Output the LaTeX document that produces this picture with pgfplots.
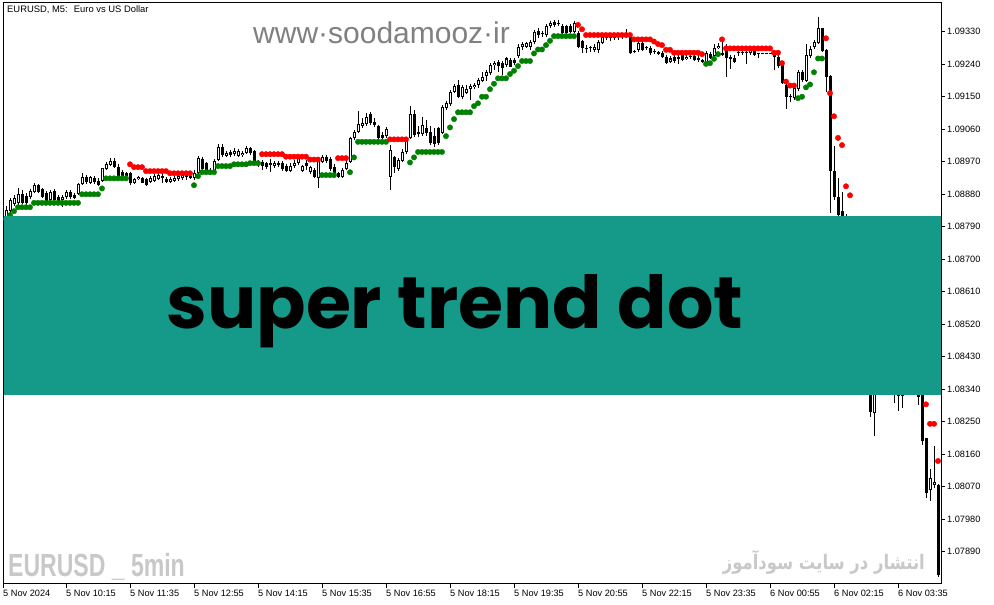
\documentclass[border=0pt]{standalone}
\usepackage{pgfplots}
\usepackage{pgfplotstable}
\pgfplotsset{compat=1.18}
\usepackage{fontspec}
\setmainfont{Liberation Sans}
\newfontfamily\boxfont{Poppins}
\newfontfamily\arabicfont[Script=Arabic]{DejaVu Sans}
\TeXXeTstate=1
\definecolor{boxteal}{RGB}{21,154,138}
\definecolor{stgreen}{RGB}{0,128,0}
\definecolor{stred}{RGB}{255,0,0}
\definecolor{wmgray}{RGB}{128,128,128}
\definecolor{lgray}{RGB}{200,200,200}

\pgfplotstableread{
i o h l c
0 1.08814 1.08847 1.08803 1.08836
1 1.08834 1.08870 1.08828 1.08864
2 1.08853 1.08878 1.08847 1.08870
3 1.08857 1.08897 1.08850 1.08881
4 1.08881 1.08892 1.08853 1.08857
5 1.08875 1.08883 1.08850 1.08856
6 1.08872 1.08895 1.08867 1.08889
7 1.08887 1.08910 1.08883 1.08906
8 1.08906 1.08908 1.08883 1.08887
9 1.08894 1.08897 1.08870 1.08873
10 1.08883 1.08889 1.08858 1.08862
11 1.08864 1.08892 1.08861 1.08885
12 1.08890 1.08895 1.08861 1.08864
13 1.08871 1.08878 1.08856 1.08859
14 1.08864 1.08878 1.08844 1.08873
15 1.08871 1.08892 1.08867 1.08887
16 1.08887 1.08892 1.08867 1.08871
17 1.08878 1.08883 1.08867 1.08870
18 1.08880 1.08911 1.08878 1.08908
19 1.08908 1.08939 1.08906 1.08929
20 1.08929 1.08933 1.08908 1.08914
21 1.08912 1.08931 1.08908 1.08927
22 1.08924 1.08931 1.08908 1.08913
23 1.08917 1.08925 1.08903 1.08906
24 1.08917 1.08953 1.08914 1.08952
25 1.08949 1.08969 1.08947 1.08963
26 1.08961 1.08980 1.08958 1.08973
27 1.08973 1.08980 1.08953 1.08956
28 1.08956 1.08964 1.08925 1.08929
29 1.08942 1.08947 1.08925 1.08931
30 1.08938 1.08942 1.08920 1.08931
31 1.08940 1.08942 1.08906 1.08910
32 1.08910 1.08925 1.08908 1.08921
33 1.08921 1.08931 1.08920 1.08927
34 1.08924 1.08928 1.08911 1.08912
35 1.08921 1.08925 1.08903 1.08906
36 1.08915 1.08931 1.08911 1.08924
37 1.08917 1.08936 1.08914 1.08931
38 1.08921 1.08939 1.08920 1.08933
39 1.08931 1.08939 1.08911 1.08924
40 1.08921 1.08928 1.08911 1.08915
41 1.08915 1.08928 1.08911 1.08922
42 1.08917 1.08931 1.08914 1.08924
43 1.08921 1.08936 1.08917 1.08931
44 1.08924 1.08939 1.08920 1.08933
45 1.08933 1.08938 1.08920 1.08929
46 1.08926 1.08936 1.08922 1.08931
47 1.08924 1.08947 1.08920 1.08938
48 1.08938 1.08986 1.08933 1.08979
49 1.08977 1.08983 1.08944 1.08949
50 1.08966 1.08969 1.08939 1.08945
51 1.08947 1.08953 1.08933 1.08938
52 1.08945 1.08978 1.08942 1.08973
53 1.08975 1.09019 1.08972 1.09010
54 1.09010 1.09019 1.08983 1.08989
55 1.08987 1.09000 1.08983 1.08995
56 1.08998 1.09003 1.08983 1.08989
57 1.08991 1.09008 1.08986 1.09001
58 1.08986 1.09005 1.08983 1.08999
59 1.08989 1.09000 1.08983 1.08995
60 1.08995 1.09014 1.08991 1.09007
61 1.09007 1.09011 1.08989 1.08993
62 1.09001 1.09003 1.08967 1.08970
63 1.08961 1.08975 1.08956 1.08970
64 1.08970 1.08975 1.08947 1.08958
65 1.08966 1.08969 1.08950 1.08956
66 1.08961 1.08977 1.08942 1.08966
67 1.08958 1.08972 1.08953 1.08967
68 1.08961 1.08972 1.08956 1.08966
69 1.08967 1.08972 1.08944 1.08949
70 1.08958 1.08964 1.08942 1.08945
71 1.08945 1.08967 1.08942 1.08958
72 1.08958 1.08975 1.08953 1.08967
73 1.08966 1.08986 1.08961 1.08980
74 1.08945 1.08961 1.08942 1.08958
75 1.08967 1.08975 1.08947 1.08958
76 1.08942 1.08958 1.08936 1.08955
77 1.08947 1.08953 1.08925 1.08929
78 1.08924 1.08983 1.08897 1.08980
79 1.08970 1.08989 1.08967 1.08984
80 1.08984 1.08989 1.08967 1.08973
81 1.08978 1.08983 1.08944 1.08950
82 1.08956 1.08964 1.08925 1.08929
83 1.08938 1.08942 1.08925 1.08929
84 1.08927 1.08953 1.08925 1.08947
85 1.08949 1.08975 1.08947 1.08967
86 1.08970 1.09039 1.08967 1.09035
87 1.09035 1.09058 1.09030 1.09053
88 1.09053 1.09111 1.09050 1.09075
89 1.09069 1.09091 1.09064 1.09076
90 1.09075 1.09105 1.09069 1.09093
91 1.09102 1.09108 1.09072 1.09076
92 1.09081 1.09091 1.09066 1.09072
93 1.09069 1.09072 1.09030 1.09035
94 1.09044 1.09052 1.09027 1.09035
95 1.09041 1.09066 1.09036 1.09060
96 1.08929 1.09016 1.08892 1.09003
97 1.08982 1.08986 1.08939 1.08956
98 1.08949 1.08980 1.08944 1.08975
99 1.08973 1.09005 1.08969 1.08998
100 1.08996 1.09030 1.08991 1.09027
101 1.09037 1.09124 1.09033 1.09102
102 1.09102 1.09113 1.09039 1.09044
103 1.09052 1.09069 1.09039 1.09047
104 1.09047 1.09094 1.09041 1.09072
105 1.09064 1.09086 1.09041 1.09050
106 1.09053 1.09069 1.09016 1.09021
107 1.09041 1.09064 1.09011 1.09019
108 1.09064 1.09066 1.09016 1.09022
109 1.09050 1.09127 1.09047 1.09121
110 1.09118 1.09138 1.09113 1.09132
111 1.09129 1.09169 1.09124 1.09164
112 1.09164 1.09185 1.09160 1.09180
113 1.09183 1.09196 1.09147 1.09150
114 1.09150 1.09183 1.09144 1.09176
115 1.09161 1.09183 1.09158 1.09171
116 1.09171 1.09185 1.09141 1.09180
117 1.09176 1.09188 1.09171 1.09183
118 1.09183 1.09202 1.09174 1.09196
119 1.09194 1.09219 1.09191 1.09205
120 1.09207 1.09224 1.09194 1.09219
121 1.09215 1.09243 1.09210 1.09238
122 1.09238 1.09249 1.09224 1.09244
123 1.09247 1.09252 1.09219 1.09235
124 1.09244 1.09249 1.09210 1.09229
125 1.09238 1.09260 1.09232 1.09256
126 1.09252 1.09257 1.09232 1.09233
127 1.09252 1.09257 1.09238 1.09243
128 1.09263 1.09296 1.09257 1.09289
129 1.09287 1.09302 1.09280 1.09296
130 1.09289 1.09302 1.09285 1.09298
131 1.09289 1.09307 1.09280 1.09302
132 1.09302 1.09335 1.09296 1.09330
133 1.09333 1.09340 1.09313 1.09321
134 1.09324 1.09332 1.09316 1.09327
135 1.09321 1.09352 1.09316 1.09346
136 1.09346 1.09360 1.09340 1.09353
137 1.09358 1.09363 1.09343 1.09349
138 1.09352 1.09363 1.09346 1.09355
139 1.09346 1.09352 1.09321 1.09326
140 1.09346 1.09349 1.09321 1.09326
141 1.09346 1.09352 1.09327 1.09330
142 1.09330 1.09360 1.09327 1.09353
143 1.09327 1.09332 1.09285 1.09289
144 1.09305 1.09307 1.09271 1.09284
145 1.09282 1.09293 1.09271 1.09282
146 1.09284 1.09291 1.09274 1.09284
147 1.09280 1.09296 1.09274 1.09289
148 1.09280 1.09307 1.09271 1.09302
149 1.09300 1.09327 1.09296 1.09316
150 1.09313 1.09318 1.09307 1.09313
151 1.09312 1.09318 1.09304 1.09312
152 1.09313 1.09318 1.09307 1.09313
153 1.09315 1.09324 1.09307 1.09315
154 1.09316 1.09324 1.09310 1.09316
155 1.09321 1.09338 1.09313 1.09321
156 1.09316 1.09321 1.09268 1.09270
157 1.09275 1.09280 1.09271 1.09273
158 1.09280 1.09302 1.09274 1.09298
159 1.09298 1.09302 1.09277 1.09280
160 1.09284 1.09291 1.09280 1.09284
161 1.09284 1.09291 1.09266 1.09270
162 1.09275 1.09282 1.09268 1.09275
163 1.09274 1.09277 1.09266 1.09268
164 1.09272 1.09277 1.09257 1.09261
165 1.09261 1.09266 1.09241 1.09244
166 1.09247 1.09263 1.09243 1.09256
167 1.09261 1.09266 1.09243 1.09250
168 1.09261 1.09266 1.09241 1.09254
169 1.09266 1.09268 1.09249 1.09252
170 1.09254 1.09266 1.09252 1.09261
171 1.09260 1.09266 1.09255 1.09260
172 1.09263 1.09266 1.09249 1.09252
173 1.09257 1.09266 1.09246 1.09252
174 1.09252 1.09255 1.09243 1.09247
175 1.09243 1.09277 1.09241 1.09270
176 1.09268 1.09274 1.09255 1.09257
177 1.09263 1.09296 1.09260 1.09284
178 1.09284 1.09299 1.09282 1.09291
179 1.09270 1.09302 1.09263 1.09266
180 1.09289 1.09296 1.09205 1.09257
181 1.09261 1.09266 1.09227 1.09254
182 1.09257 1.09266 1.09243 1.09247
183 1.09270 1.09285 1.09263 1.09275
184 1.09270 1.09280 1.09266 1.09275
185 1.09272 1.09277 1.09241 1.09272
186 1.09270 1.09285 1.09266 1.09280
187 1.09278 1.09282 1.09263 1.09266
188 1.09268 1.09268 1.09257 1.09268
189 1.09268 1.09268 1.09268 1.09268
190 1.09268 1.09268 1.09268 1.09268
191 1.09268 1.09268 1.09268 1.09268
192 1.09268 1.09268 1.09224 1.09261
193 1.09259 1.09266 1.09230 1.09235
194 1.09238 1.09243 1.09185 1.09187
195 1.09183 1.09188 1.09117 1.09150
196 1.09152 1.09158 1.09136 1.09148
197 1.09146 1.09183 1.09141 1.09173
198 1.09171 1.09224 1.09166 1.09219
199 1.09219 1.09224 1.09191 1.09196
200 1.09194 1.09296 1.09191 1.09266
201 1.09263 1.09291 1.09257 1.09281
202 1.09287 1.09307 1.09282 1.09302
203 1.09300 1.09372 1.09296 1.09340
204 1.09340 1.09340 1.09274 1.09278
205 1.09280 1.09282 1.09164 1.09205
206 1.09207 1.09210 1.08829 1.08945
207 1.08944 1.09014 1.08864 1.08873
208 1.08873 1.08924 1.08814 1.08822
209 1.08834 1.08887 1.08767 1.08781
210 1.08781 1.08825 1.08684 1.08698
211 1.08703 1.08726 1.08559 1.08587
212 1.08587 1.08615 1.08462 1.08476
213 1.08476 1.08504 1.08324 1.08421
214 1.08393 1.08462 1.08365 1.08449
215 1.08435 1.08449 1.08352 1.08379
216 1.08379 1.08393 1.08264 1.08278
217 1.08273 1.08365 1.08211 1.08352
218 1.08352 1.08407 1.08338 1.08393
219 1.08388 1.08435 1.08371 1.08421
220 1.08415 1.08426 1.08365 1.08379
221 1.08388 1.08399 1.08343 1.08365
222 1.08343 1.08399 1.08302 1.08388
223 1.08371 1.08388 1.08280 1.08321
224 1.08321 1.08371 1.08288 1.08360
225 1.08352 1.08393 1.08338 1.08377
226 1.08377 1.08388 1.08332 1.08352
227 1.08365 1.08379 1.08327 1.08338
228 1.08352 1.08365 1.08296 1.08318
229 1.08338 1.08352 1.08185 1.08197
230 1.08204 1.08205 1.08038 1.08052
231 1.08061 1.08118 1.08031 1.08093
232 1.08075 1.08183 1.08066 1.08084
233 1.08075 1.08077 1.07821 1.07825
}\candles

\pgfplotstableread{
i v
0 1.08811
1 1.08822
2 1.08833
3 1.08844
4 1.08844
5 1.08844
6 1.08844
7 1.08856
8 1.08856
9 1.08856
10 1.08856
11 1.08856
12 1.08856
13 1.08856
14 1.08856
15 1.08856
16 1.08856
17 1.08856
18 1.08856
19 1.08880
20 1.08880
21 1.08880
22 1.08880
23 1.08880
24 1.08896
25 1.08924
26 1.08924
27 1.08924
28 1.08924
29 1.08924
30 1.08924
47 1.08905
48 1.08930
49 1.08941
50 1.08941
51 1.08941
52 1.08941
53 1.08958
54 1.08958
55 1.08958
56 1.08958
57 1.08963
58 1.08963
59 1.08963
60 1.08963
61 1.08966
62 1.08966
63 1.08966
79 1.08933
80 1.08933
81 1.08933
82 1.08933
86 1.08941
87 1.08982
88 1.09025
89 1.09025
90 1.09025
91 1.09025
92 1.09025
93 1.09025
94 1.09025
95 1.09025
101 1.08968
102 1.08982
103 1.08997
104 1.08997
105 1.08997
106 1.08997
107 1.08997
108 1.08997
109 1.08997
110 1.09041
111 1.09065
112 1.09088
113 1.09107
114 1.09107
115 1.09107
116 1.09107
117 1.09124
118 1.09132
119 1.09150
120 1.09150
121 1.09171
122 1.09186
123 1.09201
124 1.09201
125 1.09201
126 1.09213
127 1.09222
128 1.09235
129 1.09249
130 1.09249
131 1.09249
132 1.09270
133 1.09281
134 1.09281
135 1.09293
136 1.09305
137 1.09318
138 1.09318
139 1.09318
140 1.09318
141 1.09318
142 1.09318
175 1.09241
176 1.09243
177 1.09255
178 1.09268
198 1.09146
199 1.09150
200 1.09176
201 1.09184
202 1.09218
203 1.09256
204 1.09256
}\greendots

\pgfplotstableread{
i v
31 1.08963
32 1.08955
33 1.08955
34 1.08955
35 1.08944
36 1.08944
37 1.08944
38 1.08944
39 1.08944
40 1.08944
41 1.08938
42 1.08938
43 1.08938
44 1.08938
45 1.08938
46 1.08938
64 1.08991
65 1.08991
66 1.08991
67 1.08991
68 1.08991
69 1.08991
70 1.08984
71 1.08984
72 1.08984
73 1.08984
74 1.08984
75 1.08984
76 1.08976
77 1.08976
78 1.08976
83 1.08980
84 1.08980
85 1.08980
96 1.09032
97 1.09032
98 1.09032
99 1.09032
100 1.09032
143 1.09349
144 1.09337
145 1.09321
146 1.09321
147 1.09321
148 1.09321
149 1.09321
150 1.09321
151 1.09321
152 1.09321
153 1.09321
154 1.09321
155 1.09321
156 1.09321
157 1.09309
158 1.09309
159 1.09309
160 1.09309
161 1.09309
162 1.09303
163 1.09296
164 1.09293
165 1.09280
166 1.09280
167 1.09272
168 1.09272
169 1.09272
170 1.09272
171 1.09272
172 1.09272
173 1.09272
174 1.09268
179 1.09309
180 1.09284
181 1.09284
182 1.09284
183 1.09284
184 1.09284
185 1.09284
186 1.09284
187 1.09284
188 1.09284
189 1.09284
190 1.09284
191 1.09284
192 1.09272
193 1.09272
194 1.09243
195 1.09192
196 1.09181
197 1.09181
205 1.09312
206 1.09160
207 1.09096
208 1.09036
209 1.09016
210 1.08902
211 1.08877
212 1.08753
213 1.08698
214 1.08615
215 1.08587
216 1.08504
217 1.08476
218 1.08449
219 1.08449
220 1.08449
221 1.08449
222 1.08421
223 1.08421
224 1.08421
225 1.08421
226 1.08421
227 1.08393
228 1.08393
229 1.08393
230 1.08298
231 1.08244
232 1.08244
233 1.08141
}\reddots

\begin{document}
\begin{tikzpicture}
\begin{axis}[
  at={(3pt,-2.5pt)}, anchor=north west,
  scale only axis, width=938pt, height=581pt,
  xmin=-0.75, xmax=233.75, ymin=1.078017, ymax=1.094111,
  axis line style={line width=1pt, black},
  tick style={line width=1pt, black},
  tick align=outside, major tick length=4pt,
  xtick pos=left, ytick pos=right,
  xticklabel pos=left, yticklabel pos=right,
  scaled y ticks=false,
  ytick={1.0789,1.0798,1.0807,1.0816,1.0825,1.0834,1.0843,1.0852,1.0861,1.0870,1.0879,1.0888,1.0897,1.0906,1.0915,1.0924,1.0933},
  yticklabels={1.07890,1.07980,1.08070,1.08160,1.08250,1.08340,1.08430,1.08520,1.08610,1.08700,1.08790,1.08880,1.08970,1.09060,1.09150,1.09240,1.09330},
  xtick={-0.75,15,31,47,63,79,95,111,127,143,159,175,191,207,223},
  xticklabels={5 Nov 2024,5 Nov 10:15,5 Nov 11:35,5 Nov 12:55,5 Nov 14:15,5 Nov 15:35,5 Nov 16:55,5 Nov 18:15,5 Nov 19:35,5 Nov 20:55,5 Nov 22:15,5 Nov 23:35,6 Nov 00:55,6 Nov 02:15,6 Nov 03:35},
  yticklabel style={anchor=west, inner sep=0pt, xshift=2pt, font=\fontsize{9.2}{10}\selectfont},
  xticklabel style={anchor=north west, inner sep=0pt, yshift=-2.5pt, font=\fontsize{9.2}{10}\selectfont},
]
% wicks
\addplot[draw=none, no markers, forget plot,
  error bars/.cd, y dir=plus, y explicit, error mark=none,
  error bar style={draw=black, line width=1pt}]
  table[x=i, y=l, y error plus expr={\thisrow{h}-\thisrow{l}}] {\candles};
% bodies (outline / filled)
\addplot[draw=none, no markers, forget plot,
  error bars/.cd, y dir=plus, y explicit, error mark=none,
  error bar style={draw=black, line width=3pt}]
  table[x=i, y expr={min(\thisrow{o},\thisrow{c})}, y error plus expr={max(abs(\thisrow{c}-\thisrow{o}),0.0000277)}] {\candles};
% hollow interior of rising candles
\addplot[draw=none, no markers, forget plot,
  error bars/.cd, y dir=plus, y explicit, error mark=none,
  error bar style={draw=white, line width=1pt}]
  table[x=i, y expr={min(\thisrow{o},\thisrow{c})+0.0000277}, y error plus expr={ifthenelse(\thisrow{c}>\thisrow{o}, max(\thisrow{c}-\thisrow{o}-0.0000554,0), 0)}] {\candles};
% super trend dots
\addplot[only marks, mark=*, mark size=2.7pt, color=stgreen, mark options={draw=stgreen, fill=stgreen}]
  table[x=i, y=v] {\greendots};
\addplot[only marks, mark=*, mark size=2.7pt, color=stred, mark options={draw=stred, fill=stred}]
  table[x=i, y=v] {\reddots};
\end{axis}
\fill[boxteal] (3.5pt,-216pt) rectangle (940.5pt,-395pt);
\node[anchor=base, inner sep=0pt, font=\boxfont\bfseries\fontsize{73}{73}\selectfont] at (455pt,-328pt) {super trend dot};
\node[anchor=base west, inner sep=0pt, font=\fontsize{9.4}{10}\selectfont] at (7pt,-12.7pt) {EURUSD, M5:~ Euro vs US Dollar};
\node[anchor=base west, inner sep=0pt, text=wmgray, font=\fontsize{30}{30}\selectfont] at (253pt,-43.3pt) {www·soodamooz·ir};
\node[anchor=base west, inner sep=0pt, text=lgray, xscale=0.72, font=\bfseries\fontsize{32}{32}\selectfont] at (8pt,-576pt) {EURUSD \_ 5min};
\node[anchor=base east, inner sep=0pt, text=lgray, xscale=0.82, font=\arabicfont\bfseries\fontsize{20}{20}\selectfont] at (925pt,-569pt) {\beginR انتشار در سایت سودآموز\endR};
\pgfresetboundingbox
\useasboundingbox (0,0) rectangle (994pt,-605pt);
\end{tikzpicture}
\end{document}
